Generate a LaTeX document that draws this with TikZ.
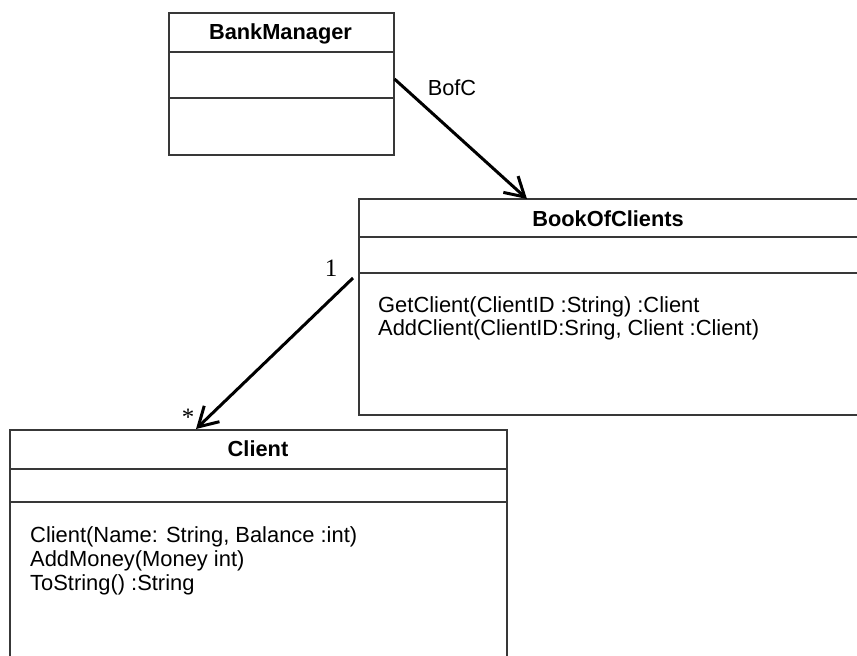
\documentclass[tikz,border=0pt]{standalone}
\usepackage{fontspec}
\setmainfont{Liberation Sans}
\newfontfamily\multfont{Liberation Serif}
\usetikzlibrary{arrows.meta,calc}
\begin{document}
\begin{tikzpicture}[x=1pt,y=-1pt,
  boxline/.style={draw=black!78, line width=1.5pt},
  umlbox/.style={boxline, rectangle, inner sep=0pt, anchor=north west},
  assoc/.style={draw=black, line width=3pt, -{Straight Barb[length=19pt,width=22pt,line width=3pt]}},
  titletext/.style={font=\fontsize{21.8}{23}\selectfont\bfseries, inner sep=0pt, anchor=base},
  bodytext/.style={font=\fontsize{21.9}{23.5}\selectfont, inner sep=0pt, anchor=base west},
  labeltext/.style={font=\fontsize{21.8}{23}\selectfont, inner sep=0pt, anchor=base},
  multtext/.style={font=\multfont\fontsize{25}{26}\selectfont, inner sep=0pt}]
\useasboundingbox (0,0) rectangle (857,656);
\clip (0,0) rectangle (857,656);
\fill[white] (0,0) rectangle (857,656);

% BankManager
\node[umlbox, minimum width=225pt, minimum height=142pt] (bm) at (168,12) {};
\draw[boxline] ($(bm.north west)+(0,40)$) -- ($(bm.north east)+(0,40)$);
\draw[boxline] ($(bm.north west)+(0,86)$) -- ($(bm.north east)+(0,86)$);
\node[titletext] (bmt) at (280.5,39) {BankManager};

% BookOfClients
\node[umlbox, minimum width=540pt, minimum height=216pt] (bc) at (358,198) {};
\draw[boxline] ($(bc.north west)+(0,39)$) -- ($(bc.north east)+(0,39)$);
\draw[boxline] ($(bc.north west)+(0,75)$) -- ($(bc.north east)+(0,75)$);
\node[titletext] (bct) at (608,226) {BookOfClients};
\node[bodytext] (bcm1) at (378,312) {GetClient(ClientID :String) :Client};
\node[bodytext] (bcm2) at (378,335) {AddClient(ClientID:Sring, Client :Client)};

% Client
\node[umlbox, minimum width=497pt, minimum height=260pt] (cl) at (9,429) {};
\draw[boxline] ($(cl.north west)+(0,40)$) -- ($(cl.north east)+(0,40)$);
\draw[boxline] ($(cl.north west)+(0,73)$) -- ($(cl.north east)+(0,73)$);
\node[titletext] (clt) at (258,456) {Client};
\node[bodytext] (clm1) at (30,542) {Client(Name: String, Balance :int)};
\node[bodytext] (clm2) at (30,566) {AddMoney(Money int)};
\node[bodytext] (clm3) at (30,590) {ToString() :String};

% associations
\coordinate (a1s) at ($(bm.north east)+(0,67)$);
\coordinate (a1e) at ($(bc.north west)+(169,1)$);
\draw[assoc] (a1s) -- (a1e);
\node[labeltext] (bofc) at (452,95) {BofC};

\coordinate (a2s) at ($(bc.north west)+(-5,80)$);
\coordinate (a2e) at ($(cl.north west)+(187,0)$);
\draw[assoc] (a2s) -- (a2e);
\node[multtext] (one) at (331,268) {1};
\node[multtext] (many) at (188,417) {*};
\end{tikzpicture}
\end{document}
